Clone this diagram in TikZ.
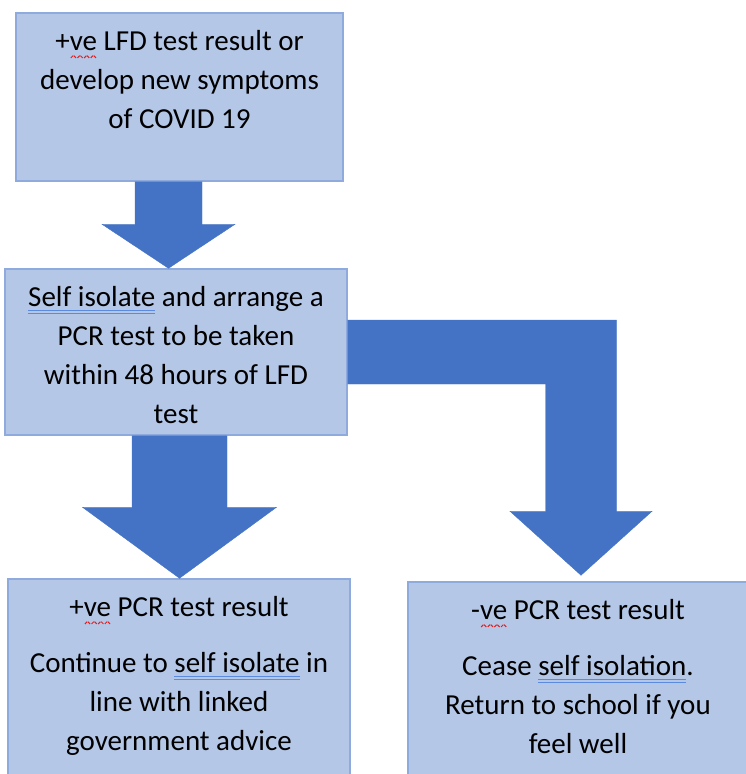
\documentclass[tikz,border=0pt]{standalone}
\usepackage{fontspec}
\setmainfont{Carlito}
\usepackage{xcolor}
\usepackage{graphicx}
\usetikzlibrary{calc, positioning}

\definecolor{boxfill}{HTML}{B4C7E7}
\definecolor{boxline}{HTML}{8FAADC}
\definecolor{arrowblue}{HTML}{4472C4}
\definecolor{spellblue}{HTML}{5B8BE0}
\definecolor{spellred}{HTML}{E02020}

% spell check marks
\newcommand{\wavebit}{\rotatebox{45}{\rule{3.2pt}{1pt}}\raisebox{2.3pt}{\rotatebox{-45}{\rule{3.2pt}{1pt}}}}
\newcommand{\redwave}[1]{\setbox0\hbox{#1}\rlap{\textcolor{spellred}{\lower8pt\hbox to \wd0{\xleaders\hbox{\wavebit}\hfil}}}\box0\relax}
\newcommand{\blueline}[1]{\setbox0\hbox{#1}\rlap{\textcolor{spellblue}{\rule[-5pt]{\wd0}{1pt}}}\rlap{\textcolor{spellblue}{\rule[-7.5pt]{\wd0}{1pt}}}\box0\relax}

% text of a box: width, height, lines
\newcommand{\boxtext}[3]{\parbox[c][#2][t]{#1}{\centering\fontsize{29}{39}\selectfont\vspace*{10pt}\strut#3}}

% block arrow pointing down: top, tip, shaft half width, head half width, head length
\newcommand{\fatdown}[5]{\fill[fatarrow] ($(#1)+(-#3,0)$) -- ($(#2)+(-#3,#5)$) -- ($(#2)+(-#4,#5)$) -- (#2) -- ($(#2)+(#4,#5)$) -- ($(#2)+(#3,#5)$) -- ($(#1)+(#3,0)$) -- cycle;}

\begin{document}
\begin{tikzpicture}[x=1pt, y=1pt]

    % Define style for boxes
    \tikzstyle{box} = [rectangle, draw=boxline, line width=1.5pt, fill=boxfill, inner sep=0pt]
    \tikzstyle{fatarrow} = [fill=arrowblue, draw=arrowblue, line width=0.4pt]

    \clip (0,0) rectangle (746,-774);

    % Nodes
    \node (lfd) [box] at (179.5,-97) {\boxtext{327pt}{168pt}{+\redwave{ve} LFD test result or\\ develop new symptoms\\ of COVID 19}};
    \node (isolate) [box] at (176,-352) {\boxtext{342pt}{166pt}{\blueline{Self isolate} and arrange a\\ PCR test to be taken\\ within 48 hours of LFD\\ test}};
    \node (positive) [box] at (179,-699.5) {\boxtext{342pt}{241pt}{+\redwave{ve} PCR test result\\[17pt] Continue to \blueline{self isolate} in\\ line with linked\\ government advice}};
    \node (negative) [box] at (578,-701) {\boxtext{340pt}{238pt}{-\redwave{ve} PCR test result\\[17pt] Cease \blueline{self isolation}.\\ Return to school if you\\ feel well}};

    % Arrows
    \coordinate (a1top) at ([xshift=-11pt]lfd.south);
    \coordinate (a1tip) at (a1top |- isolate.north);
    \fatdown{a1top}{a1tip}{33.5}{66.5}{44}

    \coordinate (a2top) at ([xshift=3.5pt]isolate.south);
    \coordinate (a2tip) at (a2top |- positive.north);
    \fatdown{a2top}{a2tip}{47.5}{97}{71}

    \coordinate (bendtip) at ([shift={(3pt,6pt)}]negative.north);
    \fill[fatarrow] ($(isolate.east)+(0,32)$) -- ($(bendtip |- isolate.east)+(35.5,32)$) -- ($(bendtip)+(35.5,64)$) -- ($(bendtip)+(71,64)$) -- (bendtip) -- ($(bendtip)+(-71,64)$) -- ($(bendtip)+(-35.5,64)$) -- ($(bendtip |- isolate.east)+(-35.5,-32)$) -- ($(isolate.east)+(0,-32)$) -- cycle;

\end{tikzpicture}
\end{document}
